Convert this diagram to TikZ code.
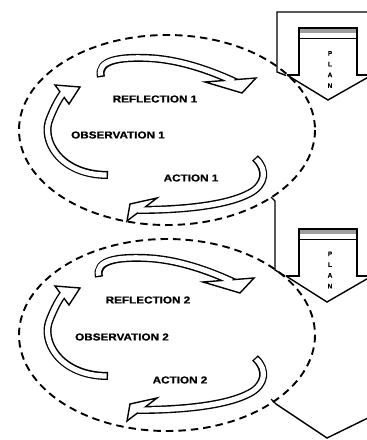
\documentclass[tikz,border=0pt]{standalone}
\usepackage{fontspec}
\newfontfamily\labfont[FakeStretch=1.17,FakeBold=0.9]{Liberation Sans}
\newfontfamily\planfont[FakeBold=0.6]{Liberation Sans}
\begin{document}
\begin{tikzpicture}[x=1pt,y=-1pt,
  band/.style={line width=8pt, draw=black},
  bandin/.style={line width=5.2pt, draw=white, shorten <=1.4pt},
  head/.style={fill=white, draw=black, line width=1.4pt, line join=miter},
  ring/.style={draw=black, line width=1.9pt, dash pattern=on 7.5pt off 5pt},
  lab/.style={font=\labfont\bfseries\fontsize{10}{12}\selectfont, inner sep=0pt},
  plan/.style={font=\planfont\bfseries\fontsize{6.5}{10.8}\selectfont, align=center, inner sep=0pt},
  outl/.style={line width=1.4pt, draw=black, line join=miter}]
\useasboundingbox (0,0) rectangle (367,440);
\clip (0,0) rectangle (367,440);
\fill[white] (0,0) rectangle (367,440);

% ---------- PLAN block arrows ----------
% plan 1
\draw[outl] (370,12) -- (277,12) -- (277,72) -- (286,75.5);
\fill[gray!75] (299,28) rectangle (357,33);
\draw[line width=1.1pt] (299,38.5) -- (357,38.5);
\draw[outl] (287,75) -- (299,75) -- (299,28) -- (357,28) -- (357,75) -- (370,75);
\draw[outl] (287,75) -- (328,100) -- (372,75);
\node[plan] (plan1) at (330,69.5) {P\\L\\A\\N};
% plan 2
\draw[outl] (271,197) -- (275,201) -- (275,270) -- (285,276);
\fill[gray!75] (299,229) rectangle (357,234);
\draw[line width=1.1pt] (299,239.5) -- (357,239.5);
\draw[outl] (286,276) -- (299,276) -- (299,229) -- (357,229) -- (357,276) -- (370,276);
\draw[outl] (286,276) -- (327,302) -- (372,276);
\node[plan] (plan2) at (330,270) {P\\L\\A\\N};
% plan 3 (head only)
\draw[outl] (271,399) -- (276,404) -- (327,438) -- (372,416);

% ---------- cycle 1 ----------
\coordinate (c1) at (167,130);
\draw[ring] (c1) ellipse [x radius=148, y radius=95];

% reflection 1
\draw[band, shorten >=-6pt] (101,77) .. controls (97,60) and (120,57) .. (147,58) .. controls (175,59) and (205,68) .. (231,80);
\filldraw[head] (205,82) -- (242,93) -- (256,78) -- cycle;
\draw[bandin, shorten >=-3pt] (101,77) .. controls (97,60) and (120,57) .. (147,58) .. controls (175,59) and (205,68) .. (231,80);
% observation 1
\draw[band, shorten >=-3pt] (108,175) .. controls (60,175) and (40,140) .. (50,118) .. controls (54,108) and (58,100) .. (62,94.5);
\filldraw[head] (55,85) -- (80,87) -- (69,104) -- cycle;
\draw[bandin, shorten >=-2.5pt] (108,175) .. controls (60,175) and (40,140) .. (50,118) .. controls (54,108) and (58,100) .. (62,94.5);
% action 1
\draw[band, shorten >=-5pt] (255,158) .. controls (268,170) and (265,185) .. (250,193) .. controls (230,204) and (190,210) .. (141,210);
\filldraw[head] (157,198) -- (130,204) -- (127,221) -- cycle;
\draw[bandin, shorten >=-3.5pt] (255,158) .. controls (268,170) and (265,185) .. (250,193) .. controls (230,204) and (190,210) .. (141,210);

\node[lab] (refl1) at (155,99) {REFLECTION 1};
\node[lab] (obs1) at (118,135) {OBSERVATION 1};
\node[lab] (act1) at (191,178) {ACTION 1};

% ---------- cycle 2 ----------
\coordinate (c2) at (167,335);
\draw[ring] (c2) ellipse [x radius=148, y radius=96];

\begin{scope}[shift={(-2,200)}]
\draw[band, shorten >=-6pt] (101,77) .. controls (97,60) and (120,57) .. (147,58) .. controls (175,59) and (205,68) .. (231,80);
\filldraw[head] (205,82) -- (242,93) -- (256,78) -- cycle;
\draw[bandin, shorten >=-3pt] (101,77) .. controls (97,60) and (120,57) .. (147,58) .. controls (175,59) and (205,68) .. (231,80);
\end{scope}
\begin{scope}[shift={(0,201)}]
\draw[band, shorten >=-3pt] (108,175) .. controls (60,175) and (40,140) .. (50,118) .. controls (54,108) and (58,100) .. (62,94.5);
\filldraw[head] (55,85) -- (80,87) -- (69,104) -- cycle;
\draw[bandin, shorten >=-2.5pt] (108,175) .. controls (60,175) and (40,140) .. (50,118) .. controls (54,108) and (58,100) .. (62,94.5);
\end{scope}
\begin{scope}[shift={(0,200)}]
\draw[band, shorten >=-5pt] (255,158) .. controls (268,170) and (265,185) .. (250,193) .. controls (230,204) and (190,210) .. (141,210);
\filldraw[head] (157,198) -- (130,204) -- (127,221) -- cycle;
\draw[bandin, shorten >=-3.5pt] (255,158) .. controls (268,170) and (265,185) .. (250,193) .. controls (230,204) and (190,210) .. (141,210);
\end{scope}

\node[lab] (refl2) at (148,300) {REFLECTION 2};
\node[lab] (obs2) at (122,337) {OBSERVATION 2};
\node[lab] (act2) at (180,380) {ACTION 2};
\end{tikzpicture}
\end{document}
